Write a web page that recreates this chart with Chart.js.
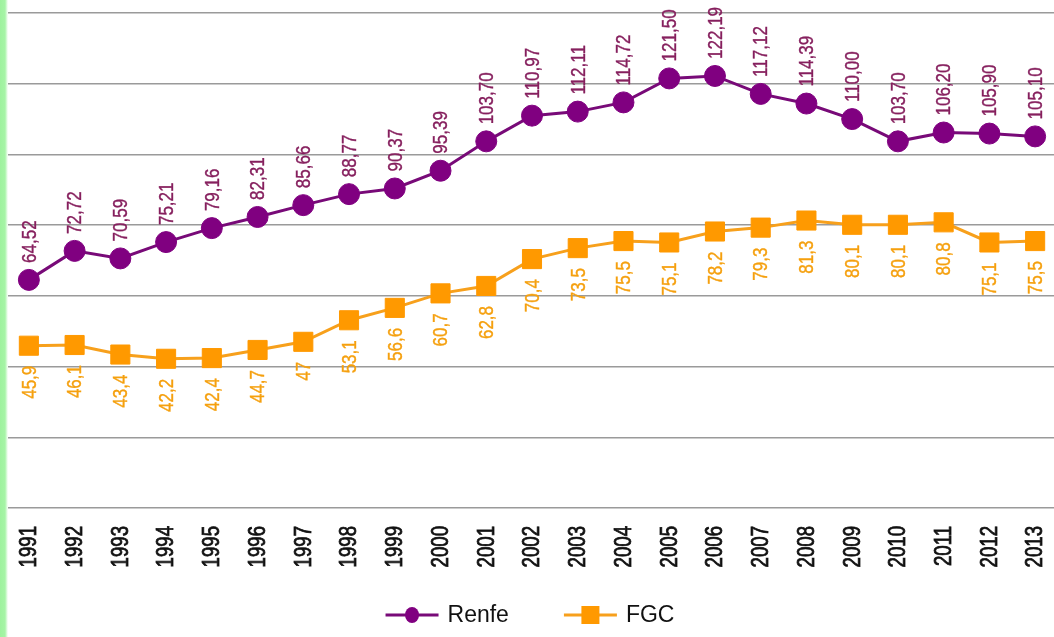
<!DOCTYPE html>
<html>
<head>
<meta charset="utf-8">
<script src="https://cdn.jsdelivr.net/npm/chart.js@4"></script>
<style>
  html, body { margin: 0; padding: 0; background: #ffffff; overflow: hidden; }
  #wrap { position: relative; width: 1054px; height: 637px; overflow: hidden; background: #fff; }
  #stripe { position: absolute; left: 0; top: 0; width: 8px; height: 637px;
            background: linear-gradient(to right, #9ef29e 0px, #a6f4a6 5px, #ffffff 8px); z-index: 2; }
  #c { position: absolute; left: 0; top: 0; }
</style>
</head>
<body>
<div id="wrap">
  <div id="stripe"></div>
  <canvas id="c" width="1058" height="637"></canvas>
</div>
<script>
// ---- data ----
const years = ['1991','1992','1993','1994','1995','1996','1997','1998','1999','2000','2001','2002',
               '2003','2004','2005','2006','2007','2008','2009','2010','2011','2012','2013'];
const renfe = [64.52, 72.72, 70.59, 75.21, 79.16, 82.31, 85.66, 88.77, 90.37, 95.39, 103.70, 110.97,
               112.11, 114.72, 121.50, 122.19, 117.12, 114.39, 110.00, 103.70, 106.20, 105.90, 105.10];
const fgc   = [45.9, 46.1, 43.4, 42.2, 42.4, 44.7, 47, 53.1, 56.6, 60.7, 62.8, 70.4,
               73.5, 75.5, 75.1, 78.2, 79.3, 81.3, 80.1, 80.1, 80.8, 75.1, 75.5];
const seriesNames = ['Renfe', 'FGC'];
const yMin = 0, yMax = 140, yStep = 20;

const FONT = "'Liberation Sans', Arial, sans-serif";
const SQUEEZE = 0.81; // narrow look of the rotated texts

const fmtRenfe = v => v.toFixed(2).replace('.', ',');
const fmtFgc = v => String(v).replace('.', ',');

// value labels, rotated, above (Renfe) or below (FGC) each point
const dataLabels = {
  id: 'dataLabels',
  afterDatasetsDraw(chart) {
    const ctx = chart.ctx;
    chart.data.datasets.forEach((ds, di) => {
      const meta = chart.getDatasetMeta(di);
      ctx.save();
      ctx.font = '21px ' + FONT;
      ctx.fillStyle = ds.labelColor;
      ctx.strokeStyle = ds.labelColor;
      ctx.lineWidth = 0.4;
      ctx.textBaseline = 'middle';
      meta.data.forEach((pt, i) => {
        const txt = ds.fmt(ds.data[i]);
        ctx.save();
        if (ds.labelAbove) {
          ctx.translate(pt.x, pt.y - 17);
          ctx.rotate(-Math.PI / 2);
          ctx.scale(SQUEEZE, 1);
          ctx.textAlign = 'left';
        } else {
          ctx.translate(pt.x, pt.y + 20);
          ctx.rotate(-Math.PI / 2);
          ctx.scale(SQUEEZE, 1);
          ctx.textAlign = 'right';
        }
        ctx.fillText(txt, 0, 1);
        ctx.strokeText(txt, 0, 1);
        ctx.restore();
      });
      ctx.restore();
    });
  }
};

// category tick labels drawn at the x scale's own tick positions
const xLabels = {
  id: 'xLabels',
  afterDraw(chart) {
    const ctx = chart.ctx;
    const xs = chart.scales.x;
    ctx.save();
    ctx.font = '23px ' + FONT;
    ctx.fillStyle = '#111';
    ctx.strokeStyle = '#111';
    ctx.lineWidth = 0.8;
    ctx.textBaseline = 'middle';
    ctx.textAlign = 'right';
    xs.ticks.forEach((t, i) => {
      const x = xs.getPixelForTick(i);
      ctx.save();
      ctx.translate(x, chart.chartArea.bottom + 18);
      ctx.rotate(-Math.PI / 2);
      ctx.scale(SQUEEZE, 1);
      ctx.fillText(chart.data.labels[i], 0, 1);
      ctx.strokeText(chart.data.labels[i], 0, 1);
      ctx.restore();
    });
    ctx.restore();
  }
};

const customLegend = {
  id: 'customLegend',
  afterDraw(chart) {
    const ctx = chart.ctx;
    const y = 615;
    ctx.save();
    ctx.font = '23px ' + FONT;
    ctx.textBaseline = 'middle';
    const lineLen = 53, gapText = 9, gapItems = 55;
    const items = chart.data.datasets.map(ds => ({ ds, w: ctx.measureText(ds.label).width }));
    const total = items.reduce((s, it) => s + lineLen + gapText + it.w, 0) + gapItems * (items.length - 1);
    let x = 530 - total / 2;
    items.forEach(it => {
      const ds = it.ds;
      ctx.strokeStyle = ds.borderColor;
      ctx.lineWidth = 3;
      ctx.beginPath(); ctx.moveTo(x, y); ctx.lineTo(x + lineLen, y); ctx.stroke();
      ctx.fillStyle = ds.pointBackgroundColor;
      const cx = x + lineLen / 2;
      if (ds.pointStyle === 'circle') {
        ctx.beginPath(); ctx.ellipse(cx, y, 7, 8, 0, 0, Math.PI * 2); ctx.fill();
      } else {
        ctx.fillRect(cx - 9, y - 9, 18, 18);
      }
      ctx.fillStyle = '#111';
      ctx.textAlign = 'left';
      ctx.fillText(ds.label, x + lineLen + gapText, y + 1);
      x += lineLen + gapText + it.w + gapItems;
    });
    ctx.restore();
  }
};

new Chart(document.getElementById('c'), {
  type: 'line',
  data: {
    labels: years,
    datasets: [
      {
        label: seriesNames[0], data: renfe, fmt: fmtRenfe, labelAbove: true, labelColor: '#86205e',
        borderColor: '#780a78', borderWidth: 3,
        pointStyle: 'circle', pointRadius: 10.5, pointHoverRadius: 10.5,
        pointBackgroundColor: '#800080', pointBorderColor: '#800080', pointBorderWidth: 1,
        tension: 0, fill: false
      },
      {
        label: seriesNames[1], data: fgc, fmt: fmtFgc, labelAbove: false, labelColor: '#f5a00f',
        borderColor: '#f7a01c', borderWidth: 3,
        pointStyle: 'rect', pointRadius: 13.5, pointHoverRadius: 13.5,
        pointBackgroundColor: '#ff9900', pointBorderColor: '#ff9900', pointBorderWidth: 1,
        tension: 0, fill: false
      }
    ]
  },
  options: {
    responsive: false,
    animation: false,
    devicePixelRatio: 1,
    layout: { padding: { left: 6, top: 13, right: 0, bottom: 0 }, autoPadding: false },
    plugins: { legend: { display: false }, tooltip: { enabled: false } },
    scales: {
      x: {
        type: 'category', offset: true,
        grid: { display: false, drawTicks: false },
        border: { display: false },
        ticks: { display: false, autoSkip: false },
        afterFit: s => { s.height = 129; s.paddingLeft = 0; s.paddingRight = 0; }
      },
      y: {
        min: yMin, max: yMax,
        ticks: { display: false, stepSize: yStep },
        grid: { color: '#9a9a9a', lineWidth: 1.5, drawTicks: false },
        border: { display: false },
        afterFit: s => { s.width = 0; s.paddingTop = 0; s.paddingBottom = 0; }
      }
    }
  },
  plugins: [dataLabels, xLabels, customLegend]
});
</script>
</body>
</html>
